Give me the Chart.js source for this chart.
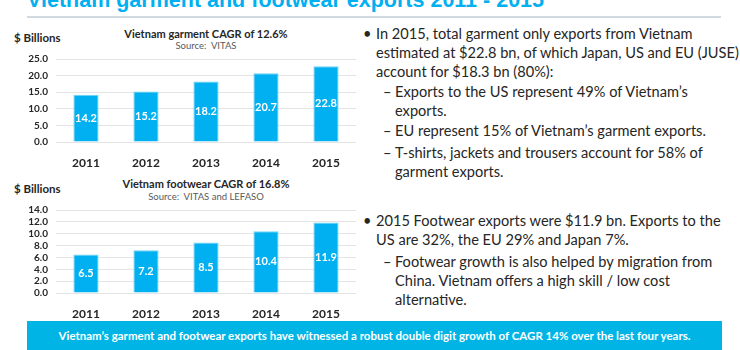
<!DOCTYPE html>
<html lang="en">
<head>
    <meta charset="UTF-8">
    <title>Vietnam garment and footwear exports 2011 - 2015</title>
    <script src="https://cdn.jsdelivr.net/npm/chart.js"></script>
    <style>
        body { margin: 0; width: 740px; height: 350px; overflow: hidden; background: #fff; font-family: Lato, "Open Sans", sans-serif; color: #262626; position: relative; }
        .abs { position: absolute; white-space: nowrap; }
        #mainTitle { left: 27px; top: -12px; font: bold 21.5px Arial, "Liberation Sans", sans-serif; color: #00B0F0; }
        #rule { left: 27px; top: 16px; width: 694px; height: 2px; background: #d0dae0; }
        .ctitle { font-weight: bold; font-size: 11px; transform: translateX(-50%); }
        .csrc { font-size: 9.5px; color: #595959; transform: translateX(-50%); }
        .unit { font-weight: bold; font-size: 11.5px; }
        .chartBox { position: absolute; left: 0; width: 362px; height: 123px; }
        .txt { font-size: 14.6px; line-height: 19px; }
        .txt .b { position: absolute; left: -13px; }
        .txt .d { position: absolute; left: -12px; }
        #banner { left: 27px; top: 321px; width: 695px; height: 29px; background: #00B5E5; color: #fff; font-weight: bold; font-size: 11.5px; text-align: center; line-height: 30px; }
    </style>
</head>
<body>
    <div class="abs" id="mainTitle">Vietnam garment and footwear exports 2011 - 2015</div>
    <div class="abs" id="rule"></div>

    <div class="abs unit" style="left:14px; top:31px;">$ Billions</div>
    <div class="abs ctitle" style="left:206px; top:27px;">Vietnam garment CAGR of 12.6%</div>
    <div class="abs csrc" style="left:206px; top:40px;">Source:&nbsp; VITAS</div>
    <div class="chartBox" style="top:45px;"><canvas id="garmentChart"></canvas></div>

    <div class="abs unit" style="left:14px; top:182px;">$ Billions</div>
    <div class="abs ctitle" style="left:206px; top:177px;">Vietnam footwear CAGR of 16.8%</div>
    <div class="abs csrc" style="left:206px; top:191px;">Source:&nbsp; VITAS and LEFASO</div>
    <div class="chartBox" style="top:196px;"><canvas id="footwearChart"></canvas></div>

    <div class="abs txt" style="left:376px; top:24px;"><span class="b">•</span>In 2015, total garment only exports from Vietnam<br>estimated at $22.8 bn, of which Japan, US and EU (JUSE)<br>account for $18.3 bn (80%):</div>
    <div class="abs txt" style="left:395px; top:82px;"><span class="d">–</span>Exports to the US represent 49% of Vietnam’s<br>exports.</div>
    <div class="abs txt" style="left:395px; top:121px;"><span class="d">–</span>EU represent 15% of Vietnam’s garment exports.</div>
    <div class="abs txt" style="left:395px; top:143px;"><span class="d">–</span>T-shirts, jackets and trousers account for 58% of<br>garment exports.</div>
    <div class="abs txt" style="left:376px; top:211px;"><span class="b">•</span>2015 Footwear exports were $11.9 bn. Exports to the<br>US are 32%, the EU 29% and Japan 7%.</div>
    <div class="abs txt" style="left:395px; top:252px;"><span class="d">–</span>Footwear growth is also helped by migration from<br>China. Vietnam offers a high skill / low cost<br>alternative.</div>

    <div class="abs" id="banner">Vietnam’s garment and footwear exports have witnessed a robust double digit growth of CAGR 14% over the last four years.</div>

    <script>
        const years = ['2011', '2012', '2013', '2014', '2015'];
        const garmentExports = [14.2, 15.2, 18.2, 20.7, 22.8];
        const footwearExports = [6.5, 7.2, 8.5, 10.4, 11.9];
        const garmentAxis = { max: 25, step: 5 };
        const footwearAxis = { max: 14, step: 2 };

        const barBlue = '#00B0F0';
        const fontFamily = 'Lato, "Open Sans", sans-serif';

        // white value label in the middle of each bar
        const barLabels = {
            id: 'barLabels',
            afterDatasetsDraw(chart) {
                const ctx = chart.ctx;
                const meta = chart.getDatasetMeta(0);
                ctx.save();
                ctx.fillStyle = '#ffffff';
                ctx.font = 'bold 11px ' + fontFamily;
                ctx.textAlign = 'center';
                ctx.textBaseline = 'middle';
                meta.data.forEach((bar, i) => {
                    const v = chart.data.datasets[0].data[i];
                    ctx.fillText(v.toFixed(1), bar.x, (bar.y + bar.base) / 2);
                });
                ctx.restore();
            }
        };

        function makeChart(id, values, axis) {
            return new Chart(document.getElementById(id), {
                type: 'bar',
                data: {
                    labels: years,
                    datasets: [{
                        data: values,
                        backgroundColor: barBlue,
                        borderColor: '#6fd3f7',
                        borderWidth: 1,
                        categoryPercentage: 1,
                        barPercentage: 0.42
                    }]
                },
                options: {
                    responsive: true,
                    maintainAspectRatio: false,
                    animation: false,
                    layout: { padding: { right: 6 } },
                    plugins: { legend: { display: false }, tooltip: { enabled: false } },
                    scales: {
                        x: {
                            grid: { display: false },
                            border: { display: false },
                            ticks: { color: '#262626', font: { family: fontFamily, size: 12, weight: 'bold' }, padding: 6 },
                            afterFit(scale) { scale.height = 26; }
                        },
                        y: {
                            min: 0,
                            max: axis.max,
                            grid: { color: '#e4e4e4', drawTicks: false },
                            border: { display: false },
                            ticks: {
                                stepSize: axis.step,
                                autoSkip: false,
                                padding: 8,
                                color: '#262626',
                                font: { family: fontFamily, size: 10, weight: 'bold' },
                                callback: v => v.toFixed(1)
                            },
                            afterFit(scale) { scale.width = 56; }
                        }
                    }
                },
                plugins: [barLabels]
            });
        }

        makeChart('garmentChart', garmentExports, garmentAxis);
        makeChart('footwearChart', footwearExports, footwearAxis);
    </script>
</body>
</html>
